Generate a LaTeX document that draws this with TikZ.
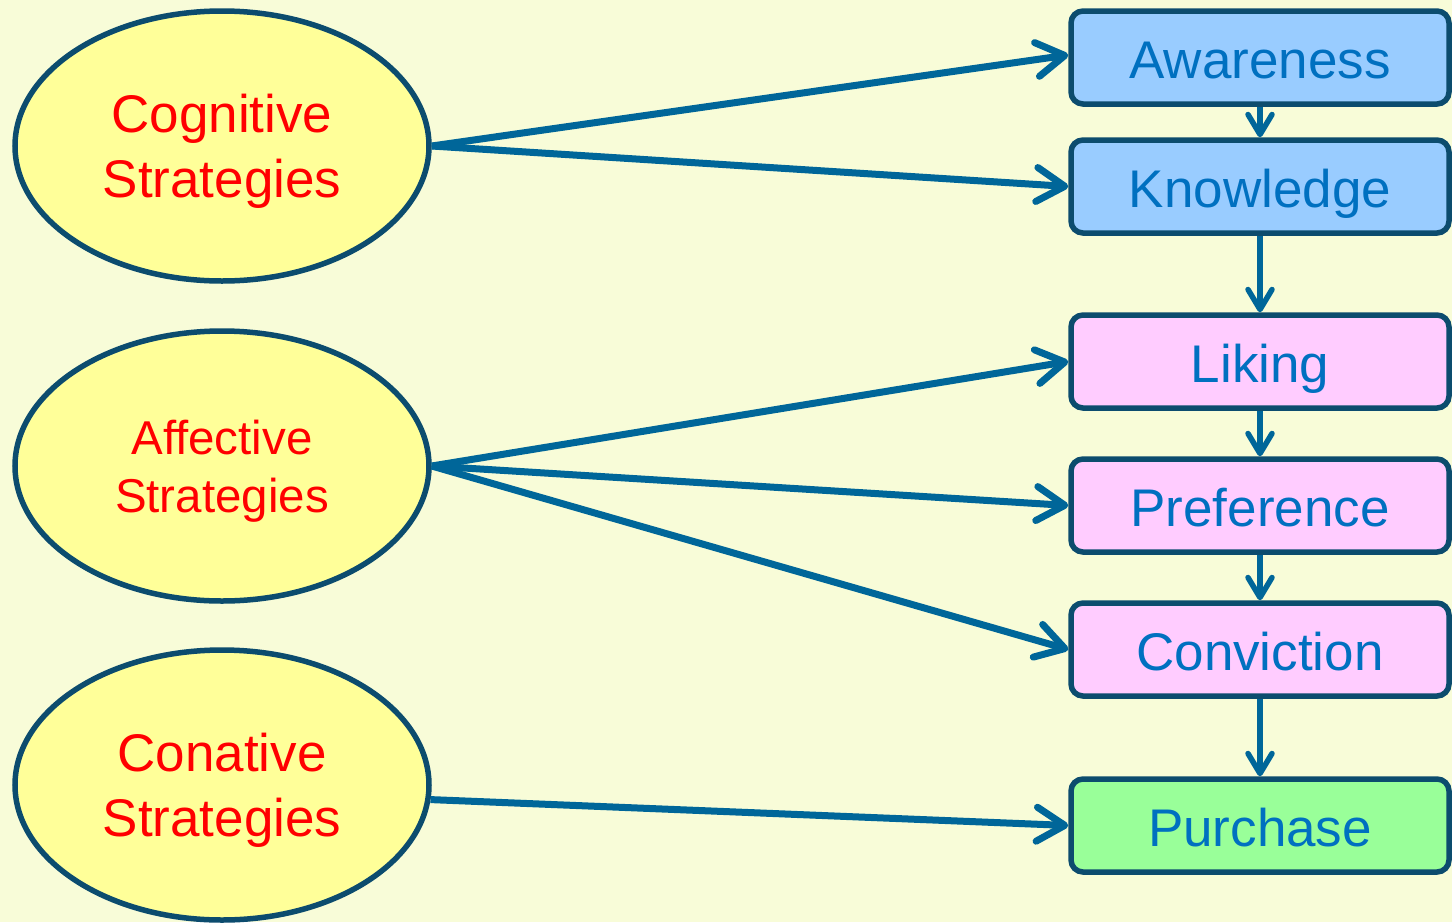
\documentclass[tikz,border=0pt]{standalone}
\usepackage{fontspec}
\setmainfont{Liberation Sans}
\usetikzlibrary{arrows.meta,shapes.geometric}
\definecolor{bgc}{RGB}{248,252,216}
\definecolor{ellfill}{RGB}{255,255,153}
\definecolor{edgec}{RGB}{12,76,110}
\definecolor{arrc}{RGB}{0,102,153}
\definecolor{txtblue}{RGB}{0,112,192}
\definecolor{bluebox}{RGB}{153,204,255}
\definecolor{pinkbox}{RGB}{255,204,255}
\definecolor{greenbox}{RGB}{153,255,153}
\tikzset{
  strat/.style={ellipse, draw=edgec, line width=5.5pt, fill=ellfill, text=red,
    minimum width=414pt, minimum height=270pt, inner sep=0pt, align=center,
    text depth=0pt},
  stage/.style={draw=edgec, line width=5.5pt, rounded corners=12pt, text=txtblue,
    minimum width=378pt, minimum height=93pt, inner sep=0pt,
    text height=41pt, text depth=0pt,
    font=\fontsize{53}{64}\selectfont},
  bigarr/.style={draw=arrc, line width=7pt, -{Straight Barb[length=28pt,width=34pt,round]}},
  smallarr/.style={draw=arrc, line width=5.5pt, -{Straight Barb[length=20pt,width=24pt,round]}}
}
\begin{document}
\begin{tikzpicture}[x=1pt,y=-1pt]
\fill[bgc] (0,0) rectangle (1452,922);
\useasboundingbox (0,0) rectangle (1452,922);

\node[strat, font=\fontsize{53}{65}\selectfont] (cog) at (222,146) {Cognitive\\Strategies};
\node[strat, font=\fontsize{47.5}{58}\selectfont] (aff) at (222,466) {Affective\\Strategies};
\node[strat, font=\fontsize{53}{65}\selectfont] (con) at (222,785) {Conative\\Strategies};

\node[stage, fill=bluebox] (awa) at (1260,57.5) {Awareness};
\node[stage, fill=bluebox] (kno) at (1260,186.5) {Knowledge};
\node[stage, fill=pinkbox] (lik) at (1260,361.5) {Liking};
\node[stage, fill=pinkbox] (pre) at (1260,505.5) {Preference};
\node[stage, fill=pinkbox] (conv) at (1260,649.5) {Conviction};
\node[stage, fill=greenbox] (pur) at (1260,825.5) {Purchase};

\draw[bigarr] (cog.east) -- ([yshift=2.5pt]awa.west);
\draw[bigarr] (cog.east) -- (kno.west);
\draw[bigarr] (aff.east) -- (lik.west);
\draw[bigarr] (aff.east) -- (pre.west);
\draw[bigarr] (aff.east) -- (conv.west);
\draw[bigarr] (con.-4) -- (pur.west);

\draw[smallarr] (awa.south) -- (kno.north);
\draw[smallarr] (kno.south) -- (lik.north);
\draw[smallarr] (lik.south) -- (pre.north);
\draw[smallarr] (pre.south) -- (conv.north);
\draw[smallarr] (conv.south) -- (pur.north);
\end{tikzpicture}
\end{document}
